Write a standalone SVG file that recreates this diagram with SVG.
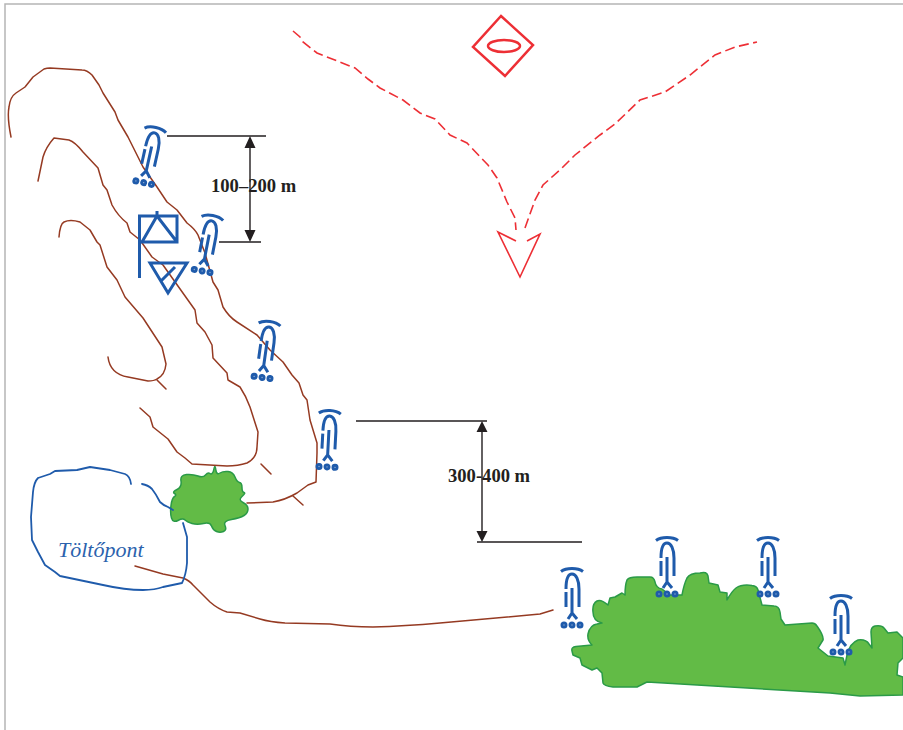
<svg xmlns="http://www.w3.org/2000/svg" width="903" height="730" viewBox="0 0 903 730">
<style>
.br{fill:none;stroke:#953a22;stroke-width:1.5;stroke-linejoin:round;stroke-linecap:round}
.bl{fill:none;stroke:#1f5bab;stroke-width:1.8;stroke-linejoin:round;stroke-linecap:round}
.sym{fill:none;stroke:#1f5bab;stroke-width:3;stroke-linejoin:miter}
.ic{fill:none;stroke:#1f5bab;stroke-width:3}
.ic circle{fill:#8fadd6;stroke-width:2.8}
.gr{fill:#62bb46;stroke:#2a9a47;stroke-width:1.5;stroke-linejoin:round}
.rd{fill:none;stroke:#ed2f35;stroke-width:1.6}
.dash{stroke-dasharray:10 4.500}
.blk{stroke:#231f20;stroke-width:1.4;fill:none}
.hd{fill:#231f20}
.lb{font-family:"Liberation Serif",serif;font-weight:bold;font-size:18.6px;fill:#231f20}
.tp{font-family:"Liberation Serif",serif;font-style:italic;font-size:22px;fill:#2b62ad}
</style>
<defs>
<g id="ant" class="ic">
<path d="M-11,3.500 Q-7,0.500 0,0.500 Q7,0.500 11,3.500"/>
<path d="M-6,21 C-6,12 -4,6 0,6 C4,6 7,12 7,21 V39"/>
<path d="M-6,24 V39"/>
<path d="M0,20 V45 M0,45 L-4,51 M0,45 L5,51"/>
<circle cx="-8" cy="57" r="2.100"/><circle cx="0" cy="57" r="2.100"/><circle cx="8" cy="57" r="2.100"/>
</g>
</defs>
<path d="M903,4 H5 V730" fill="none" stroke="#b5b5b5" stroke-width="1.5"/>
<g id="terrain">
<path class="gr" id="bush-small" d="M213.500,471 Q215,462 216,471 Q217,475 220,473 Q223,471 228,471.500 Q233,472 235,477 Q237,482 239.500,482.500 Q242,483 242,487.500 Q242,492 244,492.500 Q246,493 242,496.500 Q238,500 243,502.500 Q248,505 248,509 Q248,513 244,515.500 Q240,518 231.500,519.500 Q223,521 225,525.500 Q227,530 223.500,531.500 Q220,533 216.500,531.500 Q213,530 211.500,526 Q210,522 203.500,523.500 Q197,525 192,523.500 Q187,522 185,520 Q183,518 178,520.500 Q173,523 171.500,518 Q170,513 171,505.500 Q172,498 174.500,496.500 Q177,495 174.500,493.500 Q172,492 177,489.500 Q182,487 181,481 Q180,475 186.500,474.500 Q193,474 198,476 Q203,478 205.500,475 Q208,472 210,473.500 Q212,475 213.500,471 Z"/>
<path class="gr" id="bush-large" d="M572,651 Q571,647 576,646.500 L592,645 Q587,640 588,634 Q590,625 597,624 L602,623 Q593,621 593,612 Q592,604 597,601 Q601,599 608,605 L610,598 L615,597 L622,593 L625,595 Q625,585 627,580 Q629,577 637,577 L650,577 Q654,577 655,582 Q656,588 662,589 L670,595 L682,595 Q684,584 687,578 Q690,573 700,573 Q707,571 708,576 L709,583 L718,585 L720,592 L727,593 L727,600 Q732,591 736,588 Q742,584 752,585.500 Q757,586 758,590 L762,605 L774,606 Q779,606 780,612 L781,619 L785,625 L812,623 Q815,623 817,626 Q824,636 823,640 L818,648 L828,656 L843,658 L845,665 L847,655 Q850,643 858,640 Q866,639 869,644 L872,648 L871,632 Q871,627 875,626 Q882,625 884,628 L888,633 L897,632 L903,638 V658 L898,663 L897,675 L903,677 V695 L860,696 L830,693 L647,682 L637,687 L613,687 Q604,686 603,683 L602,673 L597,668 L592,670 L582,665 L580,658 L573,655 Z"/>
</g>
<g id="connectors">
<path class="br" d="M11,137 Q7,117 9,107 Q10,97 16,93 L25,87 L33,77 L44,69 Q47,68 50,68 L82,70 Q87,70 92,75 L99,85 L103,93 L115,112 L118,120 L128,137 L133,147 L143,167 L157,187 L167,202 L177,210 L187,223 Q195,229 198,235 L205,253 L213,282 L218,290 L223,307 Q229,317 237,322 L257,335 L270,350 L283,362 L292,375 L299,383 L303,395 L307,400 L310,420 L317,443 L317,453 L316,482 L308,485 L297,493 Q285,500 273,502 L247,503"/>
<path class="br" d="M38,181 L43,157 Q46,147 54,138 L69,140 Q75,142 83,152 L98,168 L103,185 L107,190 L112,205 Q118,216 127,223 L130,232 L140,240 L152,257 L163,265 L195,310 L197,323 L205,332 L212,345 L213,358 L227,373 L228,380 L240,387 Q246,396 250,407 L258,432 L257,447 Q257,458 247,463 Q238,466 227,466 L192,464 L185,458 L177,452 L168,439 L153,427 L150,417 L140,408"/>
<path class="br" d="M59,237 Q60,224 64,222 Q70,219 80,222 L90,230 L97,242 L100,245 L107,267 L117,280 L125,297 L143,318 L162,347 L166,364 Q165,375 157,379 Q154,381 148,381 L128,377 Q110,374 108,357"/>
<path class="br" d="M157,380 L166,389 M261,464 L271,474 M293,496 L303,505"/>
<path class="br" d="M135,566 L163,574 L183,578 Q190,581 193,585 L210,602 Q218,609 227,612 L240,613 L260,619 Q270,622 285,623 L330,624 Q350,627 373,627 Q405,626 440,623 L540,614 L553,610"/>
<path class="bl" d="M131,484 Q130,476 125,474 L110,470 L90,467 L77,470 L55,471 L50,474 L38,478 Q34,482 33,492 L31,517 L32,540 L38,552 L45,565 L55,572 L60,576 L103,585 Q125,590 143,590 Q155,590 163,587 L182,583 Q186,575 187,563 L187,537 L183,523"/>
<path class="bl" d="M142,484 Q148,485 152,489 Q156,494 160,502 Q163,505 168,507 L173,510"/>
<path class="rd dash" d="M293,31 L300,37 L303,42 L317,53 L355,68 L368,79 L380,88 L403,100 L420,113 L435,119 L450,135 L467,143 L488,165 L497,178 L507,202 L515,218 L516,230"/>
<path class="rd dash" d="M525,228 L535,200 L543,185 L562,168 L575,155 L600,135 L615,124 L640,100 L665,92 L690,75 L715,55 L735,47 L757,42"/>
<path class="rd" d="M516,241 L498,232 L520,277 L540,234 L527,241"/>
<path class="blk" d="M167,136 H266 M219,242 H261 M250,146 V232 M356,421 H487 M477,542 H582 M482,431 V532"/>
<path class="hd" d="M250,136 L255.500,148 H244.500 Z M250,242 L255.500,230 H244.500 Z M482,421 L487.500,432 H476.500 Z M482,542 L487.500,531 H476.500 Z"/>
</g>
<g id="danger-sign"><path d="M501,16 L533,45 L505,76 L473,47 Z" fill="none" stroke="#ed2f35" stroke-width="2.500"/><ellipse cx="504" cy="46" rx="16" ry="6" fill="none" stroke="#ed2f35" stroke-width="2.500"/></g>
<g id="flag-up"><path class="sym" d="M139.500,278 V216 H177 V242 H139.500 M142,242 L157,216 L177,242 M157,211 V216"/></g>
<g id="flag-down"><path class="sym" d="M150,263 H187 L168,293 Z M161,281 L175,267"/></g>
<g id="shooter-1"><use href="#ant" transform="translate(156,127) rotate(12.500)"/></g>
<g id="shooter-2"><use href="#ant" transform="translate(213,215) rotate(11)"/></g>
<g id="shooter-3"><use href="#ant" transform="translate(270,321) rotate(8)"/></g>
<g id="shooter-4"><use href="#ant" transform="translate(330,410) rotate(3)"/></g>
<g id="shooter-5"><use href="#ant" transform="translate(572,568)"/></g>
<g id="shooter-6"><use href="#ant" transform="translate(667,537)"/></g>
<g id="shooter-7"><use href="#ant" transform="translate(768,537)"/></g>
<g id="shooter-8"><use href="#ant" transform="translate(841,595)"/></g>
<g id="labels">
<text class="lb" x="211" y="192">100–200 m</text>
<text class="lb" x="448" y="482">300-400 m</text>
<text class="tp" x="58" y="557">Töltőpont</text>
</g>
</svg>
